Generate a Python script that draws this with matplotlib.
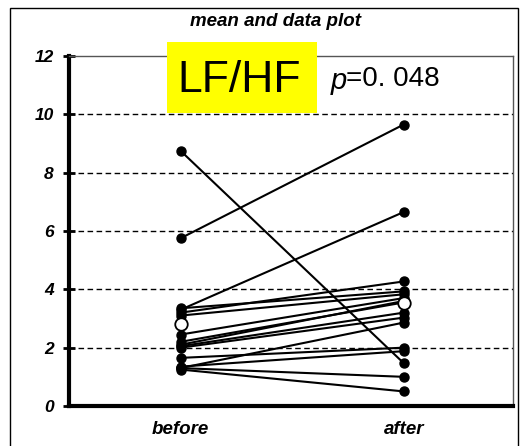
import matplotlib
matplotlib.use("Agg")
import matplotlib.pyplot as plt
from matplotlib.patches import Rectangle
import numpy as np

categories = ["before", "after"]
before = [8.75, 5.75, 3.30, 3.35, 3.20, 3.10, 2.45, 2.20, 2.10, 2.05, 2.00, 1.65, 1.35, 1.30, 1.30, 1.25]
after = [1.47, 9.65, 6.65, 3.93, 4.27, 3.83, 3.70, 3.55, 3.60, 3.20, 3.03, 2.00, 1.88, 2.86, 1.00, 0.50]
mean_values = [2.80, 3.52]
yticks = [0, 2, 4, 6, 8, 10, 12]
title = "mean and data plot"
label_main = "LF/HF"
p_text = "=0. 048"

W, H = 526, 446
fig = plt.figure(figsize=(W / 100, H / 100), dpi=100)
fig.patch.set_facecolor("white")

def fx(px):
    return px / W

def fy(py):
    return 1 - py / H

ax = fig.add_axes([fx(69), fy(406), fx(513) - fx(69), fy(56) - fy(406)])
x = np.arange(len(categories))
ax.set_xlim(-0.5, 1.49)
ax.set_ylim(0, 12)

for b, a in zip(before, after):
    ax.plot(x, [b, a], color="black", lw=1.5, marker="o", ms=6.5,
            mfc="black", mec="black", zorder=3, clip_on=False)
ax.plot(x, mean_values, ls="none", marker="o", ms=9, mfc="white",
        mec="black", mew=1.3, zorder=4, clip_on=False)

for t in yticks[1:-1]:
    ax.axhline(t, color="black", lw=1.0, ls=(0, (4, 2.5)), zorder=1)

ax.set_yticks(yticks)
ax.set_yticklabels([str(t) for t in yticks], fontfamily="Liberation Sans",
                   fontweight="bold", fontstyle="italic", fontsize=12.5)
ax.set_xticks(x)
ax.set_xticklabels(categories, fontfamily="Liberation Sans",
                   fontweight="bold", fontstyle="italic", fontsize=13.5)
ax.tick_params(axis="y", direction="inout", length=8, width=2, pad=7)
ax.tick_params(axis="x", length=0, pad=11)

ax.spines["left"].set_linewidth(3)
ax.spines["bottom"].set_linewidth(3)
for s in ("top", "right"):
    ax.spines[s].set_linewidth(1.0)
    ax.spines[s].set_color("#555555")

# outer frame
fig.patches.append(Rectangle((fx(10), -0.05), fx(518) - fx(10), fy(8) + 0.05,
                             transform=fig.transFigure, fill=False,
                             edgecolor="black", lw=1.0))

fig.text(fx(276), fy(22), title, ha="center", va="center",
         fontfamily="Liberation Sans", fontweight="bold", fontstyle="italic",
         fontsize=13.5)

# LF/HF label in yellow box
fig.patches.append(Rectangle((fx(167), fy(113)), fx(317) - fx(167), fy(42) - fy(113),
                             transform=fig.transFigure, facecolor="#ffff00",
                             edgecolor="none", zorder=5))
fig.text(fx(239), fy(80), label_main, ha="center", va="center",
         fontfamily="Liberation Sans", fontsize=32, zorder=6)

fig.text(fx(331), fy(81), "p", ha="left", va="center",
         fontfamily="Liberation Sans", fontstyle="italic", fontsize=21, zorder=6)
fig.text(fx(346), fy(79), p_text, ha="left", va="center",
         fontfamily="Liberation Sans", fontsize=20, zorder=6)

fig.savefig("out.png", dpi=100)
